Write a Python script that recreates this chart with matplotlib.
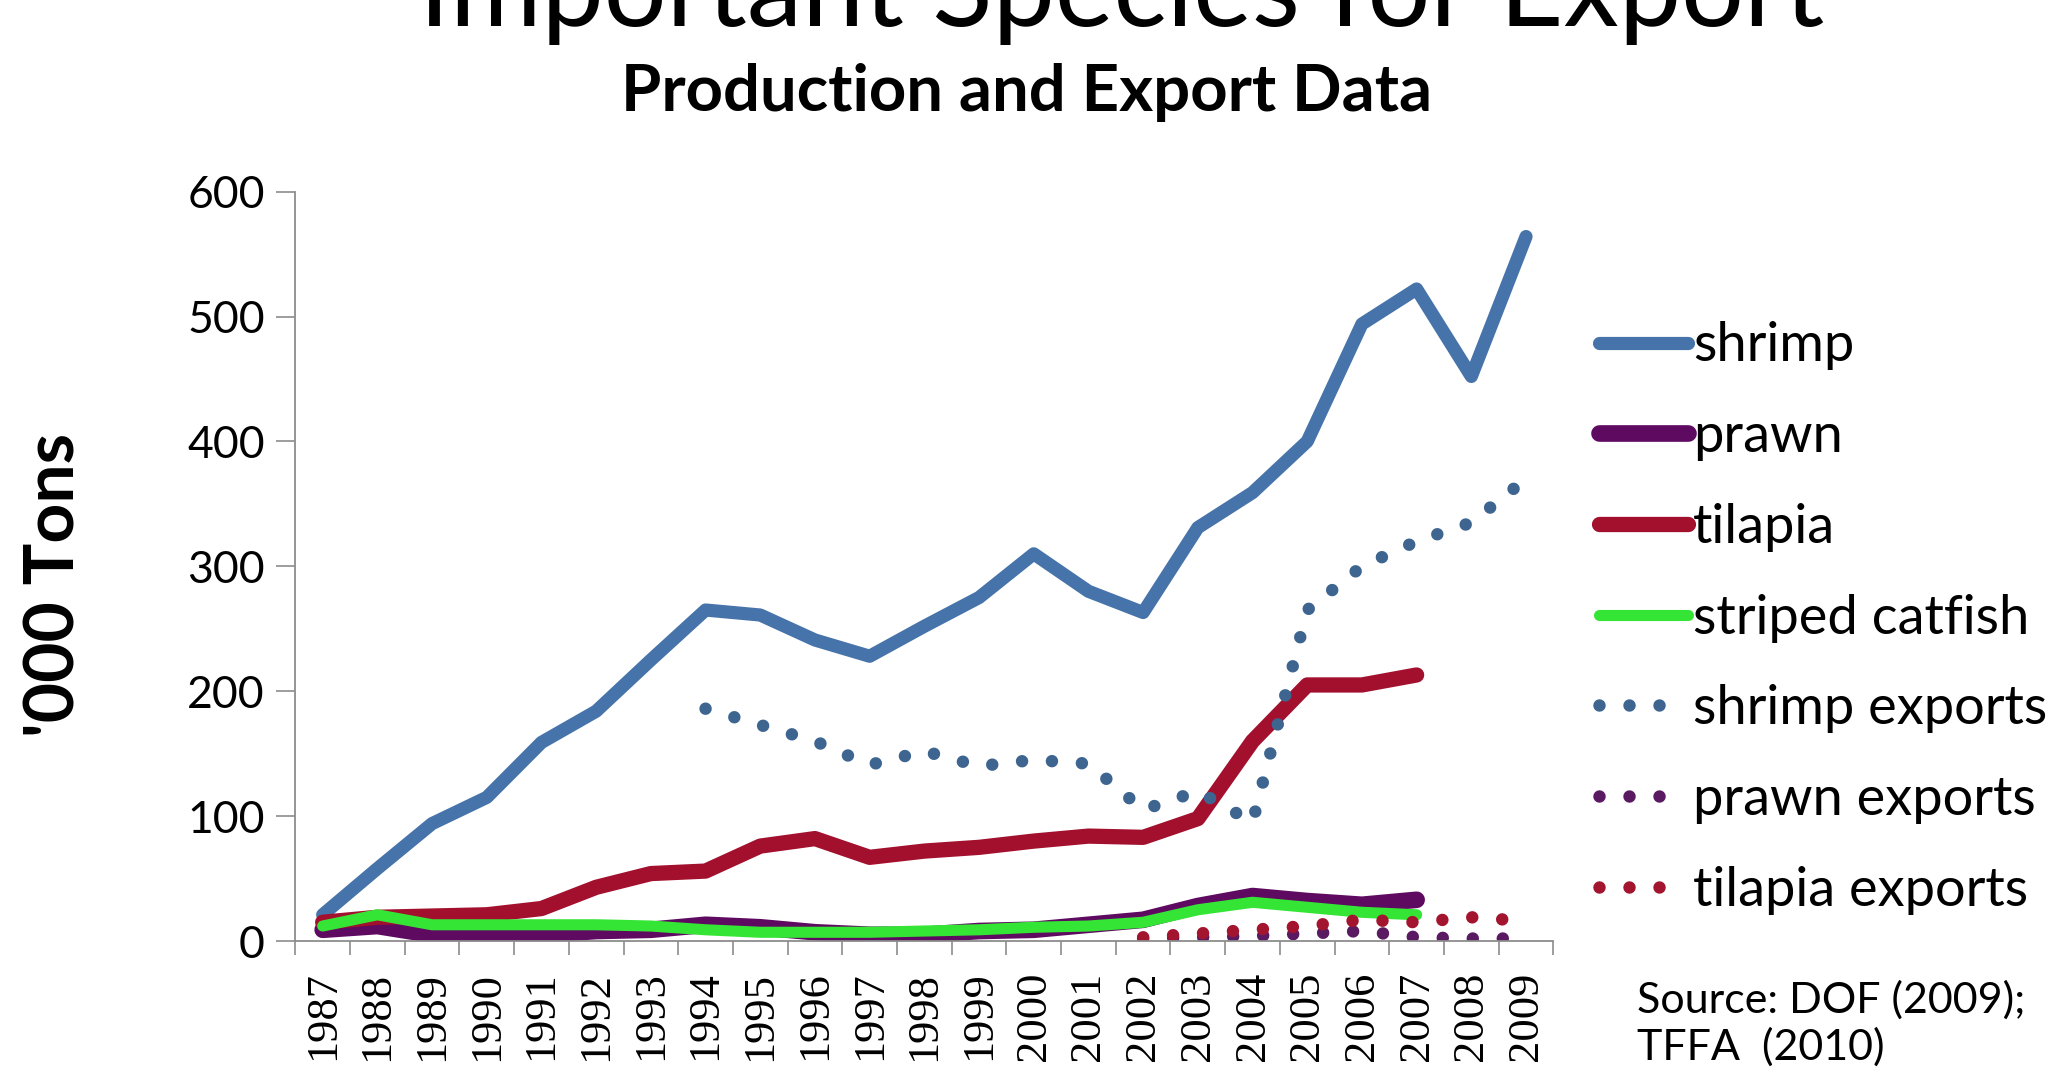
import matplotlib
matplotlib.use("Agg")
import matplotlib.pyplot as plt
import numpy as np

plt.rcParams['font.family'] = ['Lato', 'DejaVu Sans']

years = list(range(1987, 2010))
year_labels = [str(y) for y in years]

# '000 tons
shrimp = [21, 58, 94, 115, 159, 184, 225, 265, 261, 241, 228, 252,
          275, 310, 280, 263, 331, 359, 400, 494, 522, 452, 564]
prawn = [9, 12, 5, 4, 5, 8, 9, 13, 11, 7, 5, 5, 8, 9, 13, 17, 28, 36, 32, 29, 33]
tilapia = [15, 19, 20, 21, 26, 43, 54, 56, 76, 82, 67, 72, 75, 80, 84, 83,
           98, 160, 205, 205, 213]
catfish = [12, 21, 13, 13, 13, 13, 12, 9, 7, 7, 7, 8, 9, 11, 12, 15, 25, 31, 27, 23, 21]

shrimp_exp_years = list(range(1994, 2010))
shrimp_exp = [186, 173, 160, 141, 152, 140, 145, 142, 105, 120, 95, 265, 300, 320, 335, 370]
small_exp_years = list(range(2002, 2010))
prawn_exp = [2, 3, 4, 6, 8, 3, 2, 2]
tilapia_exp = [3, 6, 9, 12, 17, 15, 19, 16]

c_shrimp = '#4673A9'
c_shrimp_exp = '#3E6590'
c_prawn = '#5E0A60'
c_tilapia = '#A2102E'
c_catfish = '#35E535'

fig = plt.figure(figsize=(20.58, 10.68), dpi=100)
ax = fig.add_axes([0.1435, 0.1189, 0.6113, 0.7017])


def idx(yrs):
    return [years.index(y) for y in yrs]


x = np.arange(len(years))
solid = dict(solid_capstyle='round', solid_joinstyle='round')
ax.plot(x, shrimp, color=c_shrimp, lw=9.5, label='shrimp', **solid)
ax.plot(x[:len(prawn)], prawn, color=c_prawn, lw=12, label='prawn', **solid)
ax.plot(x[:len(tilapia)], tilapia, color=c_tilapia, lw=11, label='tilapia', **solid)
ax.plot(x[:len(catfish)], catfish, color=c_catfish, lw=8, label='striped catfish', **solid)

dots = (0, (0.001, 2.4))
ax.plot(idx(shrimp_exp_years), shrimp_exp, color=c_shrimp_exp, lw=9, ls=dots,
        dash_capstyle='round', label='shrimp exports')
ax.plot(idx(small_exp_years), prawn_exp, color='#5A1A62', lw=9, ls=dots,
        dash_capstyle='round', label='prawn exports')
ax.plot(idx(small_exp_years), tilapia_exp, color='#A3142F', lw=9, ls=dots,
        dash_capstyle='round', label='tilapia exports')

ax.set_xlim(-0.5, len(years) - 0.5)
ax.set_ylim(0, 600)
ax.set_yticks(range(0, 601, 100))
ax.set_xticks(x)
ax.set_xticklabels(year_labels, rotation=90, family='Liberation Serif', fontsize=32)
ax.set_xticks(np.arange(-0.5, len(years), 1), minor=True)
ax.tick_params(axis='x', which='major', length=0, pad=22)
ax.tick_params(axis='x', which='minor', length=10, width=1.2, color='#8C8C8C')
ax.tick_params(axis='y', length=14, width=1.2, color='#8C8C8C', labelsize=32, pad=8)

for s in ['top', 'right']:
    ax.spines[s].set_visible(False)
for s in ['left', 'bottom']:
    ax.spines[s].set_color('#8C8C8C')
    ax.spines[s].set_linewidth(1.3)

fig.text(0.0267, 0.452, "'000 Tons", rotation=90, ha='center', va='center',
         fontsize=50, fontweight='bold')
fig.text(0.4987, 0.8956, 'Production and Export Data', ha='center', va='baseline',
         fontsize=47, fontweight='bold')
fig.text(0.545, 0.9755, 'Important Species for Export', ha='center', va='baseline',
         fontsize=80)

fig.legend(loc='upper left', bbox_to_anchor=(0.777, 0.699), frameon=False,
           fontsize=39, handlelength=1.64, handletextpad=0.1, labelspacing=0.77,
           borderpad=0, borderaxespad=0)

fig.text(0.7954, 0.0515, 'Source: DOF (2009);', fontsize=31, va='baseline')
fig.text(0.7954, 0.0075, 'TFFA  (2010)', fontsize=31, va='baseline')

fig.savefig('out.png', dpi=100)
